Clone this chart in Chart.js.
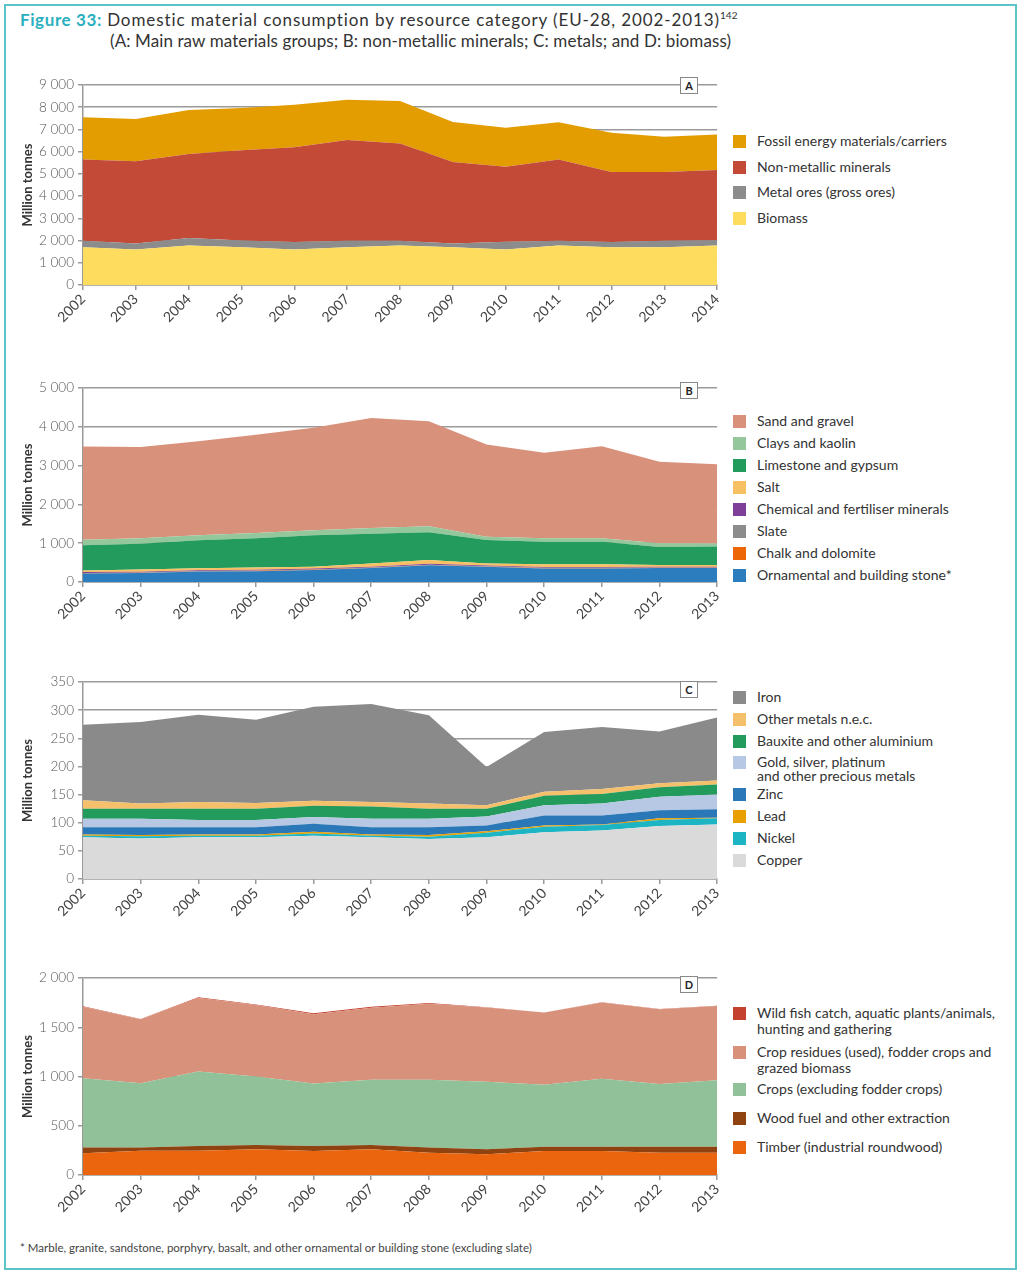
<!DOCTYPE html>
<html><head><meta charset="utf-8">
<script src="https://cdn.jsdelivr.net/npm/chart.js@4.4.1/dist/chart.umd.min.js"></script>
<style>
html,body{margin:0;padding:0;background:#fff;}
#page{position:relative;width:1024px;height:1275px;overflow:hidden;font-family:Lato,sans-serif;color:#333;}
#frame{position:absolute;left:4px;top:4px;width:1013px;height:1266px;border:2px solid #5EC4C8;box-sizing:border-box;}
.t1{position:absolute;left:20px;top:9px;font-size:17px;white-space:nowrap;letter-spacing:0.9px;color:#333;}
.t1 b{color:#2AAFBF;font-weight:700;letter-spacing:0.6px;}
.t1 sup{font-size:10px;letter-spacing:0;}
.t2{position:absolute;left:110px;top:30px;font-size:17px;white-space:nowrap;letter-spacing:0.1px;color:#333;}
canvas{position:absolute;left:0;}
.box{position:absolute;width:16px;height:15px;border:1px solid #888;background:#fff;font:bold 11px Lato,sans-serif;text-align:center;line-height:15px;color:#222;}
.lg{position:absolute;left:733px;font-size:14px;white-space:nowrap;color:#333;}
.sw{position:absolute;left:0;top:1px;width:13px;height:13px;}
.lt{position:absolute;left:24px;top:0;}
.foot{position:absolute;left:20px;top:1241px;font-size:11.5px;color:#444;white-space:nowrap;}
</style>
</head><body>
<div id="page">
<div id="frame"></div>
<div class="t1"><b>Figure 33:</b> Domestic material consumption by resource category (EU-28, 2002-2013)<sup>142</sup></div>
<div class="t2">(A: Main raw materials groups; B: non-metallic minerals; C: metals; and D: biomass)</div>
<canvas id="cA"></canvas>
<canvas id="cB"></canvas>
<canvas id="cC"></canvas>
<canvas id="cD"></canvas>
<div class="foot">* Marble, granite, sandstone, porphyry, basalt, and other ornamental or building stone (excluding slate)</div>
</div>
<script>
// ---------- DATA ----------
const yearsA = ['2002','2003','2004','2005','2006','2007','2008','2009','2010','2011','2012','2013','2014'];
const yearsBCD = ['2002','2003','2004','2005','2006','2007','2008','2009','2010','2011','2012','2013'];

// Panel A (million tonnes) - bottom to top
const biomassA     = [1700,1600,1780,1700,1600,1700,1780,1700,1600,1780,1700,1700,1780];
const metalOresA   = [290,270,330,300,330,290,210,170,350,210,230,290,230];
const nonMetallicA = [3660,3700,3780,4060,4270,4530,4380,3660,3370,3660,3160,3100,3160];
const fossilA      = [1900,1900,1990,1900,1910,1820,1910,1810,1760,1670,1760,1580,1600];

// Panel B - bottom to top
const ornamentalB = [220,230,270,280,310,360,430,390,350,350,360,360];
const chalkB      = [10,10,10,10,10,10,10,10,10,10,10,10];
const slateB      = [5,5,5,5,5,5,5,5,5,5,5,5];
const chemicalB   = [20,20,20,20,20,20,25,20,20,20,20,20];
const saltB       = [40,60,50,60,50,80,100,50,70,70,40,40];
const limestoneB  = [650,660,720,750,810,770,710,610,580,580,470,480];
const claysB      = [145,145,130,140,130,145,155,80,95,95,95,80];
const sandB       = [2400,2350,2420,2530,2640,2840,2710,2380,2200,2370,2100,2040];

// Panel C - bottom to top
const copperC   = [74,72,74,74,77,74,71,74,83,86,94,97];
const nickelC   = [3,4,3,3,4,3,4,8,10,10,11,11];
const leadC     = [2,2,2,2,3,2,3,3,2,1,3,1];
const zincC     = [13,14,13,13,14,13,14,10,18,16,14,15];
const preciousC = [15,15,13,13,12,15,15,16,18,21,24,26];
const bauxiteC  = [18,18,20,20,20,22,18,14,17,17,17,18];
const otherC    = [15,9,12,10,9,8,9,6,7,9,7,7];
const ironC     = [134,145,155,148,167,174,157,68,106,110,92,112];

// Panel D - bottom to top
const timberD       = [220,247,247,261,244,261,227,210,244,244,227,227];
const woodFuelD     = [58,31,48,44,51,44,51,51,44,44,61,61];
const cropsD        = [705,654,756,695,634,661,688,685,627,688,637,675];
const cropResiduesD = [725,648,745,725,704,733,773,754,734,775,758,754];
const wildFishD     = [6,4,8,5,9,10,8,2,2,2,2,2];

// Legend labels (bottom to top, same order as series)
const labelsA = ['Biomass','Metal ores (gross ores)','Non-metallic minerals','Fossil energy materials/carriers'];
const labelsB = ['Ornamental and building stone*','Chalk and dolomite','Slate','Chemical and fertiliser minerals','Salt','Limestone and gypsum','Clays and kaolin','Sand and gravel'];
const labelsC = ['Copper','Nickel','Lead','Zinc','Gold, silver, platinum\nand other precious metals','Bauxite and other aluminium','Other metals n.e.c.','Iron'];
const labelsD = ['Timber (industrial roundwood)','Wood fuel and other extraction','Crops (excluding fodder crops)','Crop residues (used), fodder crops and\ngrazed biomass','Wild fish catch, aquatic plants/animals,\nhunting and gathering'];

// ---------- STYLE ----------
const colorsA = ['#FDDC5E','#8C8C8C','#C24A37','#E39D00'];
const colorsB = ['#2C7DBD','#EC6608','#8C8C8C','#7D3F98','#F6C063','#239B5C','#94C79B','#D8917B'];
const colorsC = ['#DADADA','#1DB4C3','#E89F00','#2A78B7','#B6C8E3','#239B5C','#F4C06C','#8A8A8A'];
const colorsD = ['#EA650D','#8E4310','#91C198','#D8917B','#C4402F'];

Chart.defaults.font.family = 'Lato, sans-serif';

function fmt(v){ return String(v).replace(/\B(?=(\d{3})+(?!\d))/g, ' '); }

function makePanel(id, top, bottom, labels, series, names, colors, max, step, letter, boxY, legendYs, lineH) {
  const canvas = document.getElementById(id);
  const padTop = 15, xh = 50;
  canvas.width = 730;
  canvas.height = bottom - top + padTop + xh;
  canvas.style.top = (top - padTop) + 'px';
  const datasets = series.map((d, i) => ({
    label: names[i], data: d, backgroundColor: colors[i], borderColor: colors[i],
    borderWidth: 0, pointRadius: 0, pointHoverRadius: 0, tension: 0,
    fill: i === 0 ? 'origin' : '-1'
  }));
  new Chart(canvas, {
    type: 'line',
    data: { labels: labels, datasets: datasets },
    options: {
      responsive: false, animation: false, devicePixelRatio: 1,
      layout: { padding: { top: padTop, right: 8, left: 0, bottom: 0 } },
      plugins: { legend: { display: false }, tooltip: { enabled: false } },
      scales: {
        x: {
          grid: { drawOnChartArea: false, drawTicks: true, tickLength: 5, color: '#999', lineWidth: 1.5 },
          border: { color: '#999', width: 1.5 },
          ticks: { maxRotation: 45, minRotation: 45, padding: 1, color: '#444', font: { size: 14, weight: '400' } },
          afterFit: s => { s.height = xh; }
        },
        y: {
          stacked: true, min: 0, max: max,
          grid: { color: '#9A9A9A', lineWidth: 1.5, tickLength: 5 },
          border: { color: '#999', width: 1.5 },
          ticks: { stepSize: step, padding: 4, color: '#555', font: { size: 13.5, weight: '300' }, callback: v => fmt(v) },
          title: { display: true, text: 'Million tonnes', color: '#333', font: { size: 13, weight: 'bold' }, padding: { top: 20, bottom: 0 } },
          afterFit: s => { s.width = 83; }
        }
      }
    }
  });
  const page = document.getElementById('page');
  const box = document.createElement('div');
  box.className = 'box'; box.textContent = letter;
  box.style.left = '680px'; box.style.top = (boxY - 8) + 'px';
  page.appendChild(box);
  // legend: top of stack first
  for (let k = 0; k < names.length; k++) {
    const i = names.length - 1 - k;
    const it = document.createElement('div');
    it.className = 'lg';
    it.style.top = (legendYs[k] - lineH / 2) + 'px';
    it.style.lineHeight = lineH + 'px';
    const sw = document.createElement('div'); sw.className = 'sw'; sw.style.background = colors[i];
    sw.style.top = ((lineH - 13) / 2) + 'px';
    const tx = document.createElement('div'); tx.className = 'lt';
    names[i].split('\n').forEach((ln, j) => { if (j) tx.appendChild(document.createElement('br')); tx.appendChild(document.createTextNode(ln)); });
    it.appendChild(sw); it.appendChild(tx);
    page.appendChild(it);
  }
}

makePanel('cA', 85, 285, yearsA, [biomassA, metalOresA, nonMetallicA, fossilA], labelsA, colorsA, 9000, 1000, 'A', 85, [141,167,192,218], 16);
makePanel('cB', 388, 582, yearsBCD, [ornamentalB, chalkB, slateB, chemicalB, saltB, limestoneB, claysB, sandB], labelsB, colorsB, 5000, 1000, 'B', 390, [421,443,465,487,509,531,553,575], 16);
makePanel('cC', 682, 879, yearsBCD, [copperC, nickelC, leadC, zincC, preciousC, bauxiteC, otherC, ironC], labelsC, colorsC, 350, 50, 'C', 689, [697,719,741,762,794,816,838,860], 14);
makePanel('cD', 978, 1175, yearsBCD, [timberD, woodFuelD, cropsD, cropResiduesD, wildFishD], labelsD, colorsD, 2000, 500, 'D', 984, [1013,1052,1089,1118,1147], 16);
</script>
</body></html>
